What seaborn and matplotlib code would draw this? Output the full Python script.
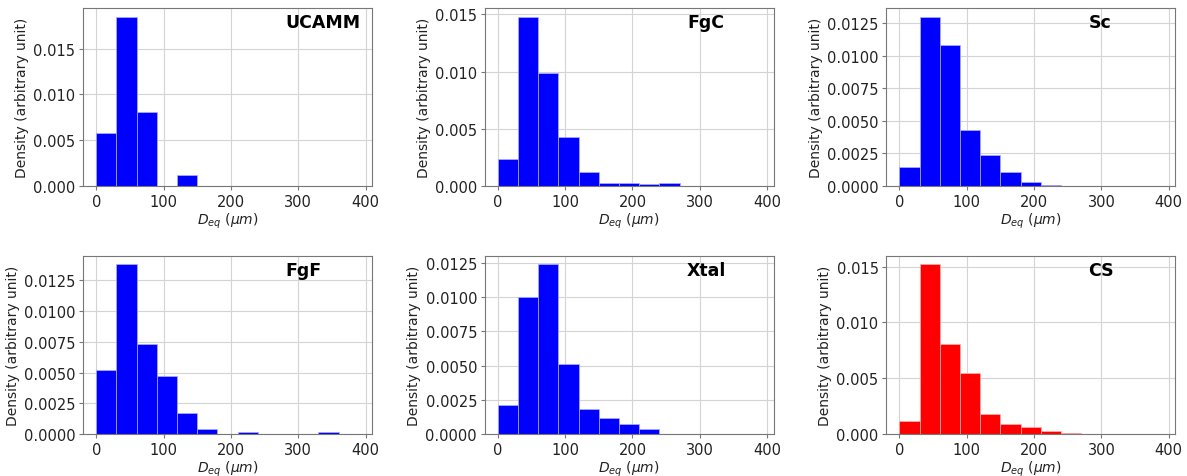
import matplotlib
matplotlib.use("Agg")
import matplotlib.pyplot as plt
import numpy as np
import pandas as pd
import seaborn as sns

# bin edges (um) - 13 bins of 30
bin_edges = [0, 30, 60, 90, 120, 150, 180, 210, 240, 270, 300, 330, 360, 390]
bin_centers = [15, 45, 75, 105, 135, 165, 195, 225, 255, 285, 315, 345, 375]

# densities
ucamm = [0.0058, 0.0185, 0.0081, 0.0, 0.0012, 0.0, 0.0, 0.0, 0.0, 0.0, 0.0, 0.0, 0.0]
fgc = [0.0024, 0.0148, 0.0099, 0.0043, 0.0012, 0.0003, 0.0003, 0.00015, 0.0003, 0.0, 0.0, 0.0, 0.0]
sc = [0.0015, 0.0130, 0.0108, 0.0043, 0.0024, 0.0011, 0.0003, 0.0001, 0.0, 0.0, 0.0, 0.0, 0.0]
fgf = [0.0052, 0.0138, 0.0073, 0.0047, 0.0017, 0.0004, 0.0, 0.0002, 0.0, 0.0, 0.0, 0.0002, 0.0]
xtal = [0.0021, 0.0100, 0.0124, 0.0051, 0.0018, 0.0012, 0.0007, 0.0004, 0.0, 0.0, 0.0, 0.0, 0.0]
cs = [0.0012, 0.0152, 0.0081, 0.0055, 0.0018, 0.0009, 0.0006, 0.0003, 0.0001, 0.0, 0.0, 0.0, 0.0]

names = ["UCAMM", "FgC", "Sc", "FgF", "Xtal", "CS"]
series = [ucamm, fgc, sc, fgf, xtal, cs]
colors = ["blue", "blue", "blue", "blue", "blue", "red"]
yticks_a = [0, 0.005, 0.010, 0.015]
yticks_b = [0, 0.0025, 0.005, 0.0075, 0.010, 0.0125]
yticks = [yticks_a, yticks_a, yticks_b, yticks_b, yticks_b, yticks_a]

sns.set_style("ticks")
plt.rcParams["font.family"] = ["DejaVu Sans"]

fig, axes = plt.subplots(2, 3, figsize=(11.87, 4.77), dpi=100)
plt.subplots_adjust(left=0.070, right=0.990, top=0.981, bottom=0.088,
                    wspace=0.39, hspace=0.393)

for ax, name, vals, col, yt in zip(axes.flat, names, series, colors, yticks):
    df = pd.DataFrame({"deq": bin_centers, "dens": vals})
    sns.histplot(data=df, x="deq", weights="dens", bins=bin_edges, stat="count",
                 color=col, alpha=1, edgecolor="#b0b0ff" if col == "blue" else "#ffb0b0",
                 linewidth=0.5, ax=ax)
    ax.set_xlim(-19.5, 409.5)
    ax.set_xticks([0, 100, 200, 300, 400])
    ax.grid(True, color="#d4d4d4", linewidth=0.8)
    ax.set_axisbelow(True)
    for sp in ax.spines.values():
        sp.set_color("#777777")
        sp.set_linewidth(0.8)
    ax.tick_params(labelsize=10.5, length=3, color="#777777", labelcolor="#222222", pad=2.5)
    ax.set_xlabel(r"$D_{eq}$ ($\mu m$)", fontsize=10, color="#222222", labelpad=1.5)
    ax.set_ylabel("Density (arbitrary unit)", fontsize=10, color="#222222", labelpad=3)
    ax.text(0.7, 0.92, name, transform=ax.transAxes, fontsize=12.5,
            fontweight="bold", va="center", ha="left", color="black")
    ax.set_yticks(yt)
    fmt = "%.3f" if len(yt) == 4 else "%.4f"
    ax.set_yticklabels([fmt % t for t in yt])
    ax.set_ylim(0, max(vals) * 1.05)

fig.savefig("out.png", dpi=100)
